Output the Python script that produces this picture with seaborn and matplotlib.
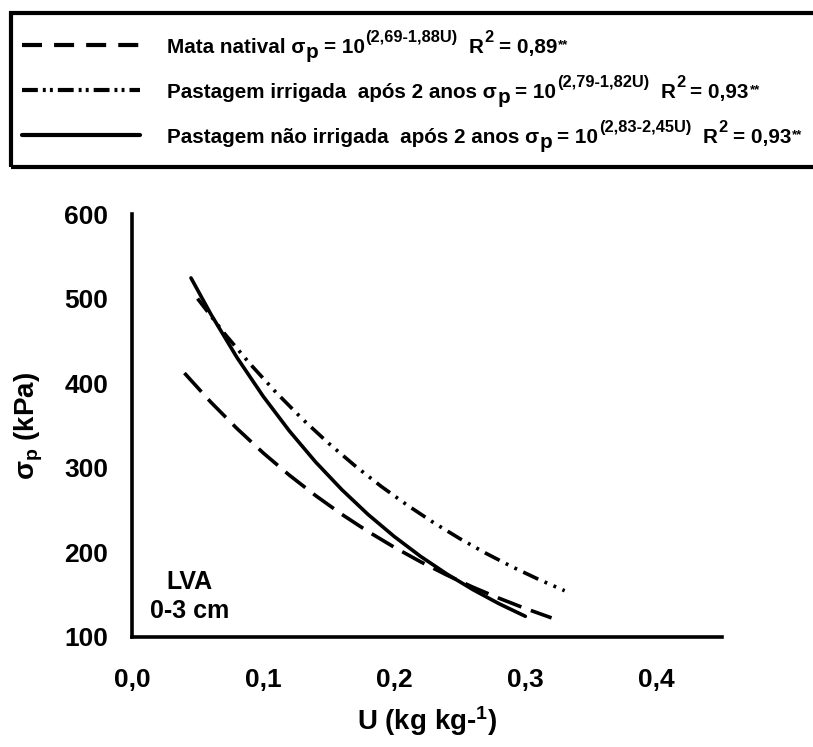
import numpy as np
import pandas as pd
import matplotlib
matplotlib.use('Agg')
from matplotlib import pyplot as plt
from matplotlib import ticker as ticker
from matplotlib.lines import Line2D
from matplotlib.patches import Rectangle
from matplotlib.transforms import IdentityTransform
import seaborn as sns

sns.set_style('white')
plt.rcParams['font.family'] = ['Liberation Sans', 'DejaVu Sans']
plt.rcParams['font.weight'] = 'bold'
plt.rcParams['mathtext.default'] = 'regular'
plt.rcParams['text.color'] = 'black'
plt.rcParams['axes.labelcolor'] = 'black'
plt.rcParams['xtick.color'] = 'black'
plt.rcParams['ytick.color'] = 'black'

# curves (U in kg/kg, sigma_p in kPa)
u_mata = [0.04, 0.06, 0.08, 0.10, 0.12, 0.14, 0.16, 0.18, 0.20, 0.22, 0.24, 0.26, 0.28, 0.30, 0.32]
sp_mata = [412.0, 377.8, 346.5, 317.7, 291.3, 267.2, 245.0, 224.7, 206.1, 189.0, 173.3, 158.9, 145.8, 133.7, 122.6]

u_irrig = [0.05, 0.07, 0.09, 0.11, 0.13, 0.15, 0.17, 0.19, 0.21, 0.23, 0.25, 0.27, 0.29, 0.31, 0.33]
sp_irrig = [500.0, 459.7, 422.9, 388.9, 357.6, 328.9, 302.5, 278.1, 255.8, 235.2, 216.3, 198.9, 182.9, 168.2, 154.7]

u_nirrig = [0.045, 0.06, 0.08, 0.10, 0.12, 0.14, 0.16, 0.18, 0.20, 0.22, 0.24, 0.26, 0.28, 0.30]
sp_nirrig = [524.4, 482.0, 430.5, 384.6, 343.6, 306.9, 274.2, 244.9, 218.8, 195.4, 174.6, 156.0, 139.3, 124.5]

names = ['Mata natival', 'Pastagem irrigada  após 2 anos', 'Pastagem não irrigada  após 2 anos']
eq_a = ['2,69', '2,79', '2,83']
eq_b = ['1,88', '1,82', '2,45']
r2 = ['0,89', '0,93', '0,93']

df = pd.concat([
    pd.DataFrame({'U': u_mata, 'sp': sp_mata, 'trat': names[0]}),
    pd.DataFrame({'U': u_irrig, 'sp': sp_irrig, 'trat': names[1]}),
    pd.DataFrame({'U': u_nirrig, 'sp': sp_nirrig, 'trat': names[2]}),
])

W, H = 813, 747
fig = plt.figure(figsize=(W / 100, H / 100), dpi=100)
ax = fig.add_axes([132 / W, 1 - 637 / H, (722 - 132) / W, (637 - 214) / H])

dash_plot = {names[0]: (7.0, 2.8), names[1]: (4.6, 1.9, 0.8, 1.9, 0.8, 1.9), names[2]: ''}
sns.lineplot(data=df, x='U', y='sp', style='trat', style_order=names, dashes=dash_plot,
             color='black', linewidth=2.6, legend=False, estimator=None, sort=False, ax=ax)

ax.set(xlim=(0, 0.45), ylim=(100, 600))
ax.xaxis.set_major_locator(ticker.MultipleLocator(0.1))
ax.xaxis.set_major_formatter(ticker.FuncFormatter(lambda v, p: f'{v:.1f}'.replace('.', ',')))
ax.yaxis.set_major_locator(ticker.MultipleLocator(100))
ax.yaxis.set_major_formatter(ticker.FuncFormatter(lambda v, p: f'{v:.0f}'))
sns.despine(ax=ax)
for s in ['left', 'bottom']:
    ax.spines[s].set_linewidth(2.6)
    ax.spines[s].set_color('black')
ax.tick_params(axis='x', direction='out', length=5, width=1, color='#444444', pad=17, labelsize=19)
ax.tick_params(axis='y', direction='out', length=5, width=1, color='#444444', pad=12, labelsize=19)
ax.set_xlabel('U (kg kg-$^{1}$)', fontsize=20, fontweight='bold', labelpad=9)
ax.set_ylabel('σ$_{p}$ (kPa)', fontsize=20, fontweight='bold', labelpad=14)

ax.text(0.098, 0.13, 'LVA', transform=ax.transAxes, ha='center', va='center', fontsize=18, fontweight='bold')
ax.text(0.098, 0.062, '0-3 cm', transform=ax.transAxes, ha='center', va='center', fontsize=18, fontweight='bold')

# legend box drawn by hand (runs past the right edge like the original)
fig.add_artist(Rectangle((11 / W, 1 - 167 / H), 1.2, (167 - 13) / H, transform=fig.transFigure,
                         fill=False, edgecolor='black', linewidth=3, clip_on=False))

dash_leg = [(4.8, 2.9), (3.8, 1.2, 0.7, 1.0, 0.7, 1.2), None]
row_y = [45, 90, 135]
renderer = fig.canvas.get_renderer()
fs = 14.9
fs_sup = 11.8
for i in range(3):
    y = H - row_y[i]
    ln = Line2D([22, 140], [y, y], transform=IdentityTransform(), color='black', linewidth=3)
    if dash_leg[i] is not None:
        ln.set_dashes(dash_leg[i])
    fig.add_artist(ln)

    pieces = [(names[i] + ' σ', 0, fs, 0), ('p', -5, fs, 0.5), ('= 10', 0, fs, 5),
              ('(' + eq_a[i] + '-' + eq_b[i] + 'U)', 11, fs_sup, 1), ('R', 0, fs, 11),
              ('2', 11, fs_sup, 1), ('= ' + r2[i], 0, fs, 5), ('**', 5, 9.5, 1)]
    x = 167
    base = y - 8
    for txt, dy, size, gap in pieces:
        x += gap
        t = fig.text(x, base + dy, txt, transform=IdentityTransform(), fontsize=size,
                     fontweight='bold', ha='left', va='baseline')
        x = t.get_window_extent(renderer).x1

fig.savefig('out.png', dpi=100)
